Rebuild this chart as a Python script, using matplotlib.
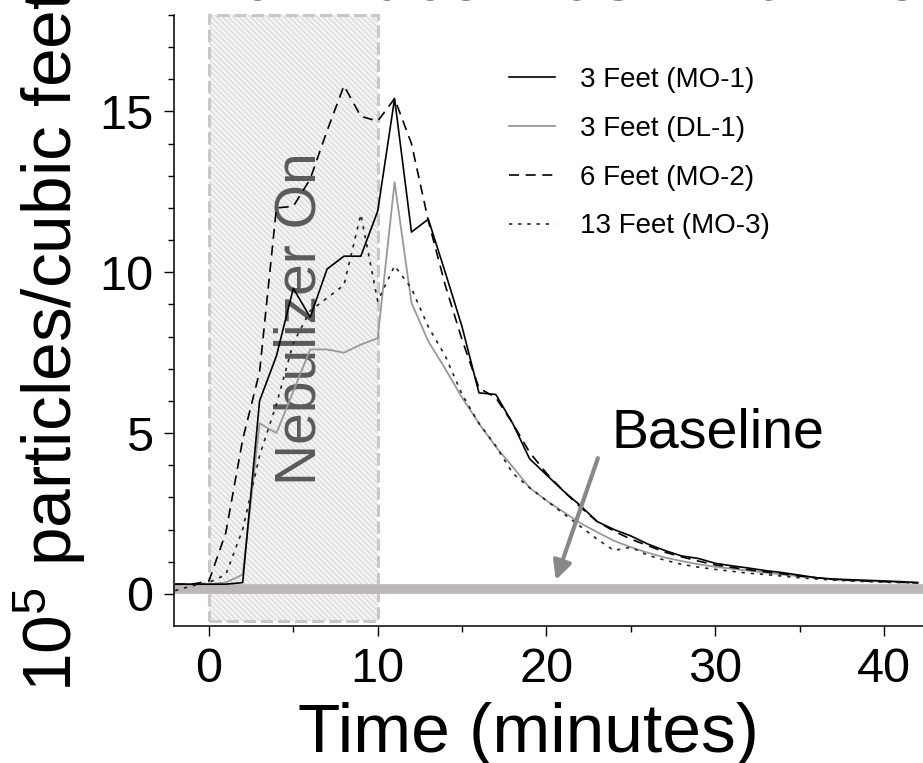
import matplotlib
matplotlib.use("Agg")
import matplotlib.pyplot as plt
from matplotlib.patches import Rectangle

plt.rcParams["font.family"] = ["Liberation Sans", "DejaVu Sans"]
plt.rcParams["mathtext.fontset"] = "custom"
plt.rcParams["mathtext.rm"] = "Liberation Sans"
plt.rcParams["hatch.linewidth"] = 0.6

# minutes, one sample per minute
time = list(range(-2, 43))

mo1 = [0.3, 0.3, 0.3, 0.3, 0.35, 6.0, 7.4, 9.5, 8.6, 10.1, 10.5, 10.5, 11.9, 15.4,
       11.25, 11.65, 10.0, 8.3, 6.25, 6.2, 5.3, 4.2, 3.7, 3.2, 2.75, 2.25, 2.0, 1.8,
       1.55, 1.35, 1.18, 1.1, 0.95, 0.87, 0.8, 0.72, 0.66, 0.58, 0.5, 0.46, 0.44,
       0.42, 0.4, 0.38, 0.35]
dl1 = [0.3, 0.3, 0.3, 0.35, 0.6, 5.3, 5.0, 6.3, 7.6, 7.6, 7.5, 7.75, 7.95, 12.8,
       9.05, 7.85, 7.0, 6.1, 5.3, 4.57, 3.95, 3.3, 2.9, 2.55, 2.2, 1.92, 1.65, 1.45,
       1.28, 1.13, 1.02, 0.92, 0.84, 0.78, 0.72, 0.66, 0.6, 0.55, 0.5, 0.45, 0.42,
       0.4, 0.38, 0.36, 0.35]
mo2 = [0.3, 0.3, 0.4, 1.9, 4.8, 6.9, 12.0, 12.05, 12.9, 14.4, 15.8, 14.85, 14.7,
       15.4, 14.0, 11.6, 9.6, 7.9, 6.4, 6.1, 5.3, 4.4, 3.75, 3.2, 2.7, 2.25, 1.95,
       1.7, 1.5, 1.3, 1.15, 1.02, 0.9, 0.82, 0.75, 0.68, 0.62, 0.55, 0.5, 0.45,
       0.42, 0.4, 0.38, 0.36, 0.34]
mo3 = [0.1, 0.25, 0.35, 0.6, 2.0, 4.3, 5.9, 7.8, 8.8, 9.2, 9.6, 11.8, 9.1, 10.2,
       9.5, 8.3, 7.4, 6.2, 5.3, 4.6, 3.75, 3.3, 2.9, 2.5, 2.1, 1.7, 1.35, 1.45,
       1.2, 1.05, 0.92, 0.83, 0.76, 0.7, 0.64, 0.6, 0.55, 0.5, 0.46, 0.43, 0.4,
       0.38, 0.36, 0.35, 0.34]

nebulizer_on = (0, 10)
baseline_level = 0.15

W, H = 923, 763
fig = plt.figure(figsize=(W / 100, H / 100), dpi=100)
ax = fig.add_axes([174 / W, 137 / H, (W - 174) / W, 611 / H])

# nebulizer window: hatched fill + dashed outline
x0, x1 = nebulizer_on
ax.add_patch(Rectangle((x0, -0.85), x1 - x0, 18.85, facecolor="#f3f3f3",
                       edgecolor="#d0d0d0", hatch="\\\\\\\\\\\\", lw=0, zorder=1))
ax.add_patch(Rectangle((x0, -0.85), x1 - x0, 18.85, fill=False, edgecolor="#c8c8c8",
                       lw=2.2, ls=(0, (4, 1.6)), zorder=1.5, clip_on=False))
ax.text(5.4, 8.55, "Nebulizer On", rotation=90, ha="center", va="center",
        fontsize=41, color="#5a5a5a", zorder=2)

ax.axhline(baseline_level, color="#bdb6b6", lw=7, zorder=2.5)

ax.plot(time, mo1, color="black", lw=1.2, label="3 Feet (MO-1)", zorder=4)
ax.plot(time, dl1, color="#999999", lw=1.3, label="3 Feet (DL-1)", zorder=3)
ax.plot(time, mo2, color="black", lw=1.2, ls=(0, (6, 4)), label="6 Feet (MO-2)", zorder=4)
ax.plot(time, mo3, color="#222222", lw=1.2, ls=(0, (2, 3.5)), label="13 Feet (MO-3)", zorder=4)

ax.annotate("", xy=(20.5, 0.35), xytext=(23.1, 4.3),
            arrowprops=dict(arrowstyle="-|>", color="#888888", lw=3, mutation_scale=28),
            zorder=5)
ax.text(23.85, 5.0, "Baseline", fontsize=40, ha="left", va="center")

ax.set_xlim(-2.07, 42.31)
ax.set_ylim(-1, 18)
ax.set_xticks([0, 10, 20, 30, 40])
ax.set_xticks([5, 15, 25, 35], minor=True)
ax.set_yticks([0, 5, 10, 15])
ax.set_yticks(range(0, 19), minor=True)
ax.tick_params(which="major", length=7, width=1, labelsize=35, pad=8)
ax.tick_params(which="minor", length=4.5, width=1)
for s in ("top", "right"):
    ax.spines[s].set_visible(False)
for s in ("left", "bottom"):
    ax.spines[s].set_linewidth(1.1)

ax.set_xlabel("Time (minutes)", fontsize=50)
ax.xaxis.set_label_coords((528 - 174) / (W - 174), -(752 - 626) / 611)
ax.xaxis.label.set_va("baseline")
ax.set_ylabel(r"$\mathregular{10^5}$ particles/cubic feet", fontsize=50)
ax.yaxis.set_label_coords(-(174 - 72) / (W - 174), 0.468)
ax.yaxis.label.set_va("baseline")

# title sits mostly above the top edge, as in the cropped original
fig.text(199 / W, 1 + 1 / H, "Full Face Mask with No Filter", fontsize=50,
         ha="left", va="baseline")

ax.legend(loc="upper left", bbox_to_anchor=(484 / W, 1 - 42 / H),
          bbox_transform=fig.transFigure, frameon=False, fontsize=20,
          handlelength=1.65, handletextpad=0.9, labelspacing=0.82, borderpad=0.4)

fig.savefig("out.png", dpi=100)
